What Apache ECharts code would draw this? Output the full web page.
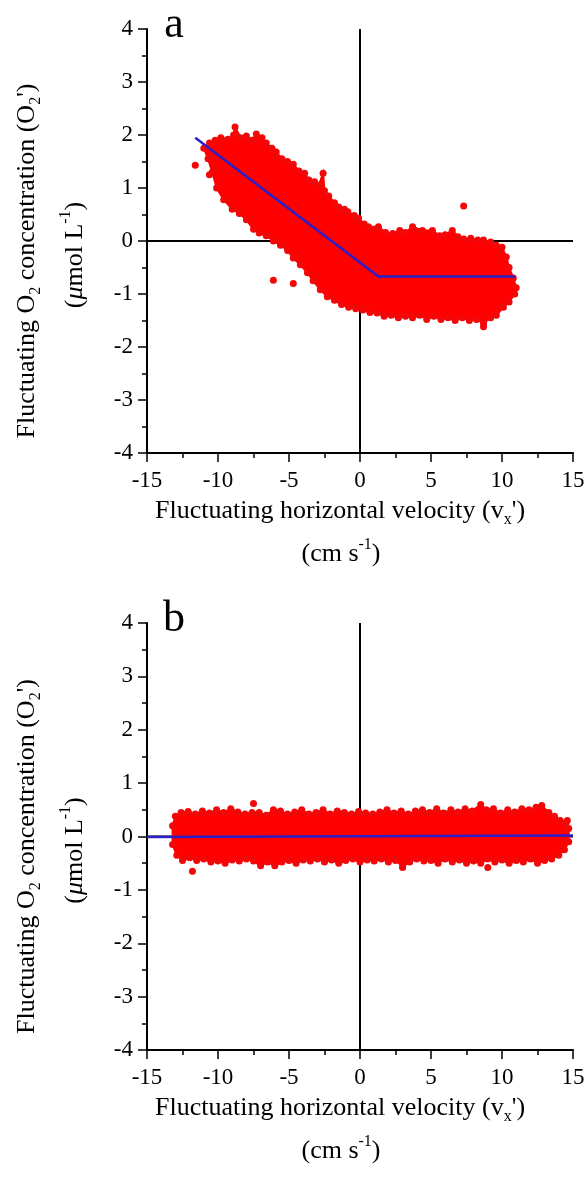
<!DOCTYPE html>
<html><head><meta charset="utf-8">
<script src="https://cdn.jsdelivr.net/npm/echarts@6/dist/echarts.min.js"></script>
<style>html,body{margin:0;padding:0;background:#fff}#c{width:588px;height:1180px}</style>
</head><body><div id="c"></div>
<script>
// ---- data ----
const xTicks = [-15, -10, -5, 0, 5, 10, 15];
const yTicks = [-4, -3, -2, -1, 0, 1, 2, 3, 4];

// panel a: edge of the point cloud (upper edge left->right, lower edge right->left)
const aUpper = [[-11.0,1.75],[-10.6,1.85],[-10.2,1.9],[-9.8,1.95],[-9.3,1.92],[-8.9,2.0],[-8.8,2.15],[-8.4,1.95],[-8.0,1.98],[-7.6,1.9],[-7.3,2.02],[-6.9,1.95],[-6.6,1.85],[-6.2,1.75],[-5.9,1.68],[-5.5,1.55],[-5.1,1.5],[-4.7,1.45],[-4.3,1.32],[-3.9,1.28],[-3.6,1.15],[-3.2,1.12],[-2.9,1.05],[-2.6,1.28],[-2.5,0.95],[-2.2,0.85],[-1.8,0.72],[-1.5,0.64],[-1.1,0.6],[-0.85,0.55],[-0.4,0.48],[-0.1,0.43],[0.3,0.32],[0.6,0.27],[1.3,0.27],[1.8,0.16],[2.3,0.14],[2.8,0.2],[3.2,0.16],[3.7,0.27],[4.4,0.2],[5.1,0.2],[5.6,0.1],[6.0,0.12],[6.5,0.2],[6.9,0.08],[7.3,0.04],[7.8,0.05],[8.3,0.02],[8.7,0.02],[9.2,-0.02],[9.6,-0.08],[10.0,-0.12],[10.3,-0.3],[10.5,-0.5],[10.8,-0.7],[11.0,-0.88]];
const aLower = [[10.9,-1.0],[10.5,-1.15],[10.1,-1.25],[9.6,-1.4],[9.2,-1.45],[8.7,-1.55],[8.2,-1.48],[7.7,-1.5],[7.2,-1.45],[6.7,-1.5],[6.2,-1.45],[5.7,-1.48],[5.2,-1.42],[4.7,-1.48],[4.2,-1.4],[3.7,-1.45],[3.2,-1.42],[2.7,-1.45],[2.2,-1.4],[1.7,-1.42],[1.2,-1.36],[0.7,-1.35],[0.2,-1.3],[-0.3,-1.28],[-0.8,-1.25],[-1.3,-1.2],[-1.8,-1.12],[-2.3,-1.05],[-2.8,-0.92],[-3.3,-0.75],[-3.7,-0.6],[-4.2,-0.45],[-4.7,-0.32],[-5.1,-0.18],[-5.6,-0.08],[-6.1,0.0],[-6.6,0.1],[-7.1,0.15],[-7.5,0.22],[-8.0,0.4],[-8.5,0.52],[-9.0,0.6],[-9.6,0.78],[-10.1,1.0],[-10.4,1.3],[-10.7,1.55]];
const aOutliers = [[-11.6,1.43],[-10.6,1.25],[-6.1,-0.74],[-4.7,-0.8],[7.3,0.66],[8.7,-1.62]];
const aFit = [[-11.6,1.95],[1.3,-0.67],[10.9,-0.67]];

// panel b
const bUpper = [[-13.2,0.2],[-13.0,0.38],[-12.6,0.45],[-12.1,0.47],[-11.6,0.42],[-11.1,0.48],[-10.6,0.44],[-10.1,0.5],[-9.6,0.45],[-9.1,0.52],[-8.6,0.46],[-8.1,0.42],[-7.6,0.45],[-7.1,0.45],[-6.6,0.4],[-6.1,0.5],[-5.6,0.48],[-5.1,0.42],[-4.6,0.46],[-4.1,0.5],[-3.6,0.42],[-3.1,0.45],[-2.6,0.5],[-2.1,0.42],[-1.6,0.48],[-1.1,0.45],[-0.6,0.42],[-0.1,0.47],[0.4,0.44],[0.9,0.42],[1.4,0.46],[1.9,0.5],[2.4,0.44],[2.9,0.48],[3.4,0.42],[3.9,0.48],[4.4,0.5],[4.9,0.45],[5.4,0.52],[5.9,0.44],[6.4,0.5],[6.9,0.46],[7.4,0.52],[7.9,0.48],[8.5,0.6],[8.9,0.5],[9.4,0.52],[9.9,0.44],[10.4,0.5],[10.9,0.46],[11.4,0.52],[11.9,0.5],[12.4,0.55],[12.8,0.58],[13.3,0.45],[13.7,0.38],[14.1,0.3],[14.5,0.25],[14.7,0.15]];
const bLower = [[14.7,-0.1],[14.4,-0.25],[14.0,-0.35],[13.5,-0.42],[13.0,-0.45],[12.5,-0.5],[12.0,-0.42],[11.5,-0.48],[11.0,-0.45],[10.5,-0.5],[10.0,-0.44],[9.5,-0.48],[9.0,-0.42],[8.5,-0.5],[8.0,-0.46],[7.5,-0.5],[7.0,-0.44],[6.5,-0.48],[6.0,-0.42],[5.5,-0.5],[5.0,-0.45],[4.5,-0.46],[4.0,-0.42],[3.5,-0.48],[3.0,-0.56],[2.5,-0.45],[2.0,-0.48],[1.5,-0.42],[1.0,-0.46],[0.5,-0.44],[0.0,-0.48],[-0.5,-0.42],[-1.0,-0.45],[-1.5,-0.5],[-2.0,-0.44],[-2.5,-0.48],[-3.0,-0.42],[-3.5,-0.46],[-4.0,-0.44],[-4.5,-0.5],[-5.0,-0.45],[-5.5,-0.48],[-6.0,-0.55],[-6.5,-0.48],[-7.0,-0.55],[-7.5,-0.46],[-8.0,-0.42],[-8.5,-0.46],[-9.0,-0.44],[-9.5,-0.5],[-10.0,-0.46],[-10.5,-0.48],[-11.0,-0.42],[-11.5,-0.45],[-12.0,-0.4],[-12.5,-0.45],[-12.9,-0.35],[-13.2,-0.15]];
const bOutliers = [[-11.8,-0.65],[-7.5,0.62],[3.0,-0.58],[9.0,-0.58],[14.6,0.3]];
const bFit = [[-15,-0.01],[15,0.02]];

// zero reference lines
const zeroV = [[0,-4],[0,4]];
const zeroH = [[-15,0],[15,0]];

const panelLetters = ['a', 'b'];
const xName1 = "Fluctuating horizontal velocity (v{s|x}')";
const xName2 = '(cm s{p|-1})';
const yName1 = "Fluctuating O{s|2} concentration (O{s|2}')";
const yName2 = '({i|\u03bc}mol L{p|-1})';

// ---- chart ----
const FONT = '"Liberation Serif", "Times New Roman", serif';
const grids = [
  {left: 147, top: 29, width: 426, height: 424},
  {left: 147, top: 623, width: 426, height: 427}
];
function xAx(i) {
  return {gridIndex: i, type: 'value', min: -15, max: 15, interval: 5,
    axisLine: {onZero: false, lineStyle: {color: '#000', width: 2}},
    axisTick: {inside: false, length: 9, lineStyle: {color: '#000', width: 1.5}},
    minorTick: {show: true, splitNumber: 2, length: 5, lineStyle: {color: '#000', width: 1.5}},
    splitLine: {show: false},
    axisLabel: {color: '#000', fontFamily: FONT, fontSize: 23, margin: 16,
      formatter: v => xTicks.includes(v) ? String(v) : ''}};
}
function yAx(i) {
  return {gridIndex: i, type: 'value', min: -4, max: 4, interval: 1,
    axisLine: {onZero: false, lineStyle: {color: '#000', width: 2}},
    axisTick: {inside: false, length: 9, lineStyle: {color: '#000', width: 1.5}},
    minorTick: {show: true, splitNumber: 2, length: 5, lineStyle: {color: '#000', width: 1.5}},
    splitLine: {show: false},
    axisLabel: {color: '#000', fontFamily: FONT, fontSize: 23, margin: 14,
      formatter: v => yTicks.includes(v) ? String(v) : ''}};
}
function cloudSeries(i, upper, lower, outliers, fit) {
  const outline = upper.concat(lower);
  const ref = {type: 'line', xAxisIndex: i, yAxisIndex: i, z: 1, silent: true, showSymbol: false,
    lineStyle: {color: '#000', width: 2}};
  return [
    Object.assign({data: zeroV}, ref),
    Object.assign({data: zeroH}, ref),
    {type: 'custom', xAxisIndex: i, yAxisIndex: i, data: [0], z: 2, silent: true,
      renderItem: (params, api) => ({type: 'polygon',
        shape: {points: outline.map(p => api.coord(p))},
        style: {fill: '#ff0000', stroke: '#ff0000', lineWidth: 2}})},
    {type: 'scatter', xAxisIndex: i, yAxisIndex: i, z: 3, symbolSize: 7,
      itemStyle: {color: '#f20808', opacity: 1},
      data: outline.concat(outliers)},
    {type: 'line', xAxisIndex: i, yAxisIndex: i, z: 4, showSymbol: false,
      lineStyle: {color: '#2a1fc8', width: 2.5}, data: fit}
  ];
}
const richStyles = {
  s: {fontFamily: FONT, fontSize: 16, verticalAlign: 'bottom', lineHeight: 16, fill: '#000'},
  p: {fontFamily: FONT, fontSize: 16, verticalAlign: 'top', lineHeight: 16, fill: '#000'},
  i: {fontFamily: FONT, fontSize: 26, fontStyle: 'italic', fill: '#000'}
};
function txt(x, y, text, size, rot) {
  return {type: 'text', x: x, y: y, rotation: rot || 0,
    style: {text: text, fontFamily: FONT, fontSize: size, fill: '#000',
      align: 'center', verticalAlign: 'middle', lineHeight: 34, rich: richStyles}};
}
const graphics = [];
const pTop = [29, 623], pBot = [453, 1050];
for (let i = 0; i < 2; i++) {
  const mid = (pTop[i] + pBot[i]) / 2;
  graphics.push(txt(174, pTop[i] - 4, panelLetters[i], 44));
  graphics.push(txt(340, pBot[i] + 58, xName1, 26));
  graphics.push(txt(341, pBot[i] + 101, xName2, 26));
  graphics.push(txt(27, mid + 20, yName1, 26, Math.PI / 2));
  graphics.push(txt(75, mid + 14, yName2, 26, Math.PI / 2));
}
const chart = echarts.init(document.getElementById('c'), null, {renderer: 'canvas'});
chart.setOption({
  animation: false,
  backgroundColor: '#fff',
  grid: grids,
  xAxis: [xAx(0), xAx(1)],
  yAxis: [yAx(0), yAx(1)],
  series: cloudSeries(0, aUpper, aLower, aOutliers, aFit).concat(cloudSeries(1, bUpper, bLower, bOutliers, bFit)),
  graphic: graphics
});
</script></body></html>
